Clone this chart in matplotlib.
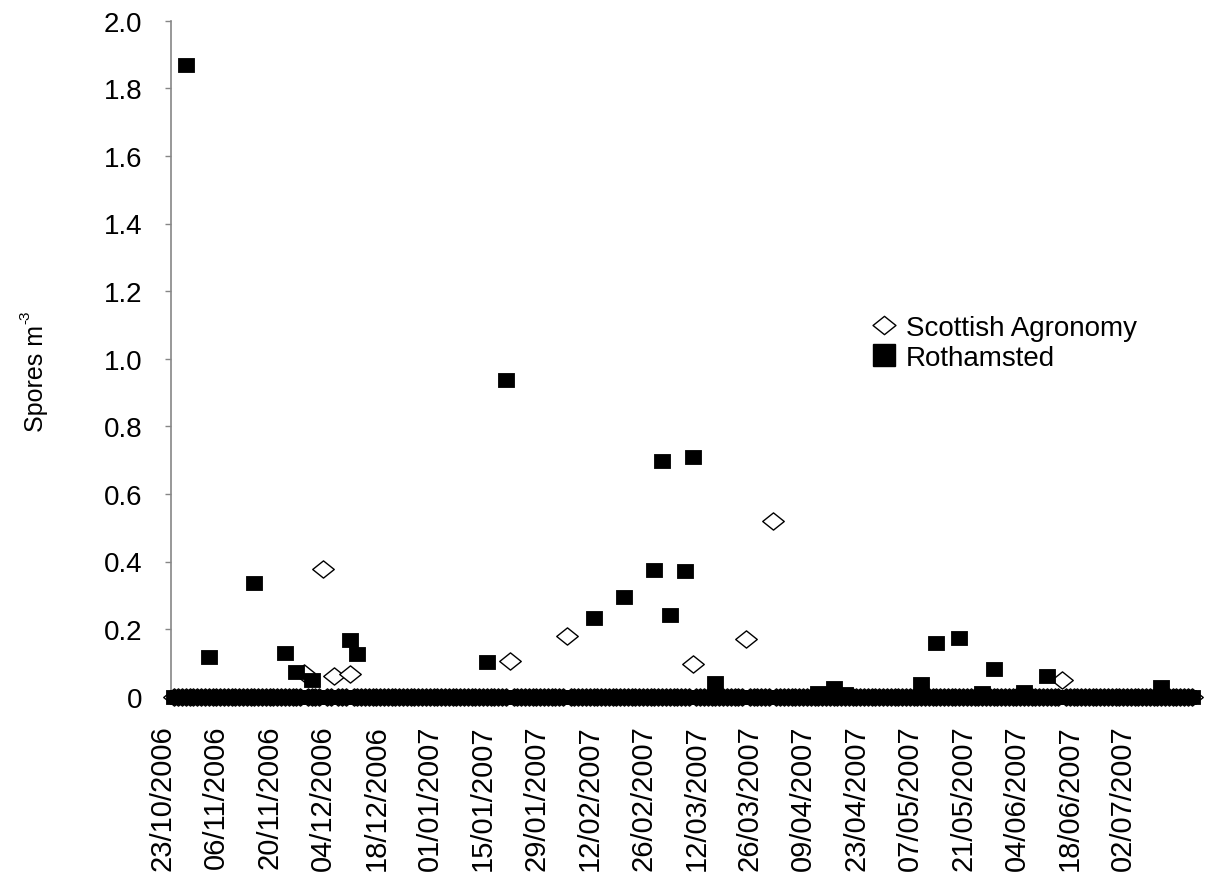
import matplotlib
matplotlib.use("Agg")
import matplotlib.pyplot as plt
import matplotlib.dates as mdates
from matplotlib.lines import Line2D
from matplotlib.path import Path
import pandas as pd

plt.rcParams["font.family"] = ["Liberation Sans", "DejaVu Sans"]

# sampling period (daily), zero on every day not listed below
START = "2006-10-26"
END = "2007-07-20"

# Rothamsted, non-zero days
roth_dates = [
    "2006-10-29", "2006-11-04", "2006-11-16", "2006-11-24", "2006-11-27",
    "2006-12-01", "2006-12-11", "2006-12-13", "2007-01-16", "2007-01-21",
    "2007-02-13", "2007-02-21", "2007-03-01", "2007-03-03", "2007-03-05",
    "2007-03-09", "2007-03-11", "2007-03-17", "2007-04-13", "2007-04-17",
    "2007-04-20", "2007-05-10", "2007-05-14", "2007-05-20", "2007-05-26",
    "2007-05-29", "2007-06-06", "2007-06-12", "2007-07-12",
]
roth_values = [
    1.868, 0.118, 0.335, 0.130, 0.073,
    0.050, 0.167, 0.127, 0.104, 0.936,
    0.233, 0.295, 0.376, 0.696, 0.242,
    0.371, 0.709, 0.041, 0.012, 0.025,
    0.008, 0.038, 0.160, 0.175, 0.012,
    0.083, 0.015, 0.060, 0.030,
]

# Scottish Agronomy, non-zero days
sa_dates = [
    "2006-11-29", "2006-12-04", "2006-12-07", "2006-12-11", "2007-01-22",
    "2007-02-06", "2007-03-11", "2007-03-25", "2007-04-01", "2007-06-16",
]
sa_values = [0.070, 0.379, 0.061, 0.068, 0.105, 0.181, 0.098, 0.172, 0.519, 0.050]

tick_dates = pd.date_range("2006-10-23", "2007-07-02", freq="14D")
y_ticks = [0, 0.2, 0.4, 0.6, 0.8, 1.0, 1.2, 1.4, 1.6, 1.8, 2.0]
y_labels = ["0", "0.2", "0.4", "0.6", "0.8", "1.0", "1.2", "1.4", "1.6", "1.8", "2.0"]


def daily_series(dates, values):
    s = pd.Series(0.0, index=pd.date_range(START, END))
    s.loc[pd.to_datetime(dates)] = values
    return s


roth = daily_series(roth_dates, roth_values)
sa = daily_series(sa_dates, sa_values)

# slightly wide markers, as in the original export
rect = Path([(-1, -0.84), (1, -0.84), (1, 0.84), (-1, 0.84), (-1, -0.84)],
            [Path.MOVETO, Path.LINETO, Path.LINETO, Path.LINETO, Path.CLOSEPOLY])
diam = Path([(-1, 0), (0, 0.8), (1, 0), (0, -0.8), (-1, 0)],
            [Path.MOVETO, Path.LINETO, Path.LINETO, Path.LINETO, Path.CLOSEPOLY])

W, H = 1208, 879
fig = plt.figure(figsize=(W / 100, H / 100), dpi=100)

# pixel layout: date d sits at 163 + 3.81 * (d - 23/10/2006)
x0 = pd.Timestamp("2006-10-23")
px_per_day = 3.81
left_px, right_px, top_px, zero_px = 150, 1206, 21.7, 697.7
ax = fig.add_axes([left_px / W, 1 - zero_px / H, (right_px - left_px) / W, (zero_px - top_px) / H])
ax.set_xlim(x0 + pd.Timedelta(days=(left_px - 163) / px_per_day),
            x0 + pd.Timedelta(days=(right_px - 163) / px_per_day))
ax.set_ylim(0, 2.0)

ax.plot(sa.index, sa.values, linestyle="none", marker=diam, markersize=15.5,
        markerfacecolor="white", markeredgecolor="black", markeredgewidth=1.0,
        clip_on=False, zorder=3)
ax.plot(roth.index, roth.values, linestyle="none", marker=rect, markersize=11.3,
        markerfacecolor="black", markeredgecolor="black", markeredgewidth=0.6,
        clip_on=False, zorder=4)

for side in ("top", "right", "bottom"):
    ax.spines[side].set_visible(False)
ax.spines["left"].set_color("#868686")
ax.spines["left"].set_linewidth(1.2)
ax.spines["left"].set_position(("data", mdates.date2num(x0 + pd.Timedelta(days=(171 - 163) / px_per_day))))

ax.set_yticks(y_ticks)
ax.set_yticklabels(y_labels)
ax.tick_params(axis="y", direction="out", length=4.5, width=1.0, color="#868686",
               labelsize=20, pad=16)

ax.set_xticks(tick_dates)
ax.xaxis.set_major_formatter(mdates.DateFormatter("%d/%m/%Y"))
ax.tick_params(axis="x", length=0, labelsize=21, pad=20)
plt.setp(ax.get_xticklabels(), rotation=90, ha="center", va="top")

# y label with a small Excel-style superscript
ylab = fig.text(36 / W, 1 - 432 / H, "Spores m", rotation=90, ha="center", va="bottom", fontsize=18)
fig.canvas.draw()
bb = ylab.get_window_extent()
fig.text((bb.x0 + 1) / W, (bb.y1 + 1) / H, "-3", rotation=90, ha="center", va="bottom", fontsize=11)

handles = [
    Line2D([0], [0], linestyle="none", marker=diam, markersize=16.5,
           markerfacecolor="white", markeredgecolor="black", markeredgewidth=1.0,
           label="Scottish Agronomy"),
    Line2D([0], [0], linestyle="none", marker="s", markersize=16,
           markerfacecolor="black", markeredgecolor="black", label="Rothamsted"),
]
ax.legend(handles=handles, loc="upper left", bbox_to_anchor=(870 / W, 1 - 316 / H),
          bbox_transform=fig.transFigure, frameon=False, fontsize=20,
          handlelength=1.0, handletextpad=0.3, labelspacing=0.15, borderpad=0, borderaxespad=0)

fig.savefig("out.png", dpi=100)
